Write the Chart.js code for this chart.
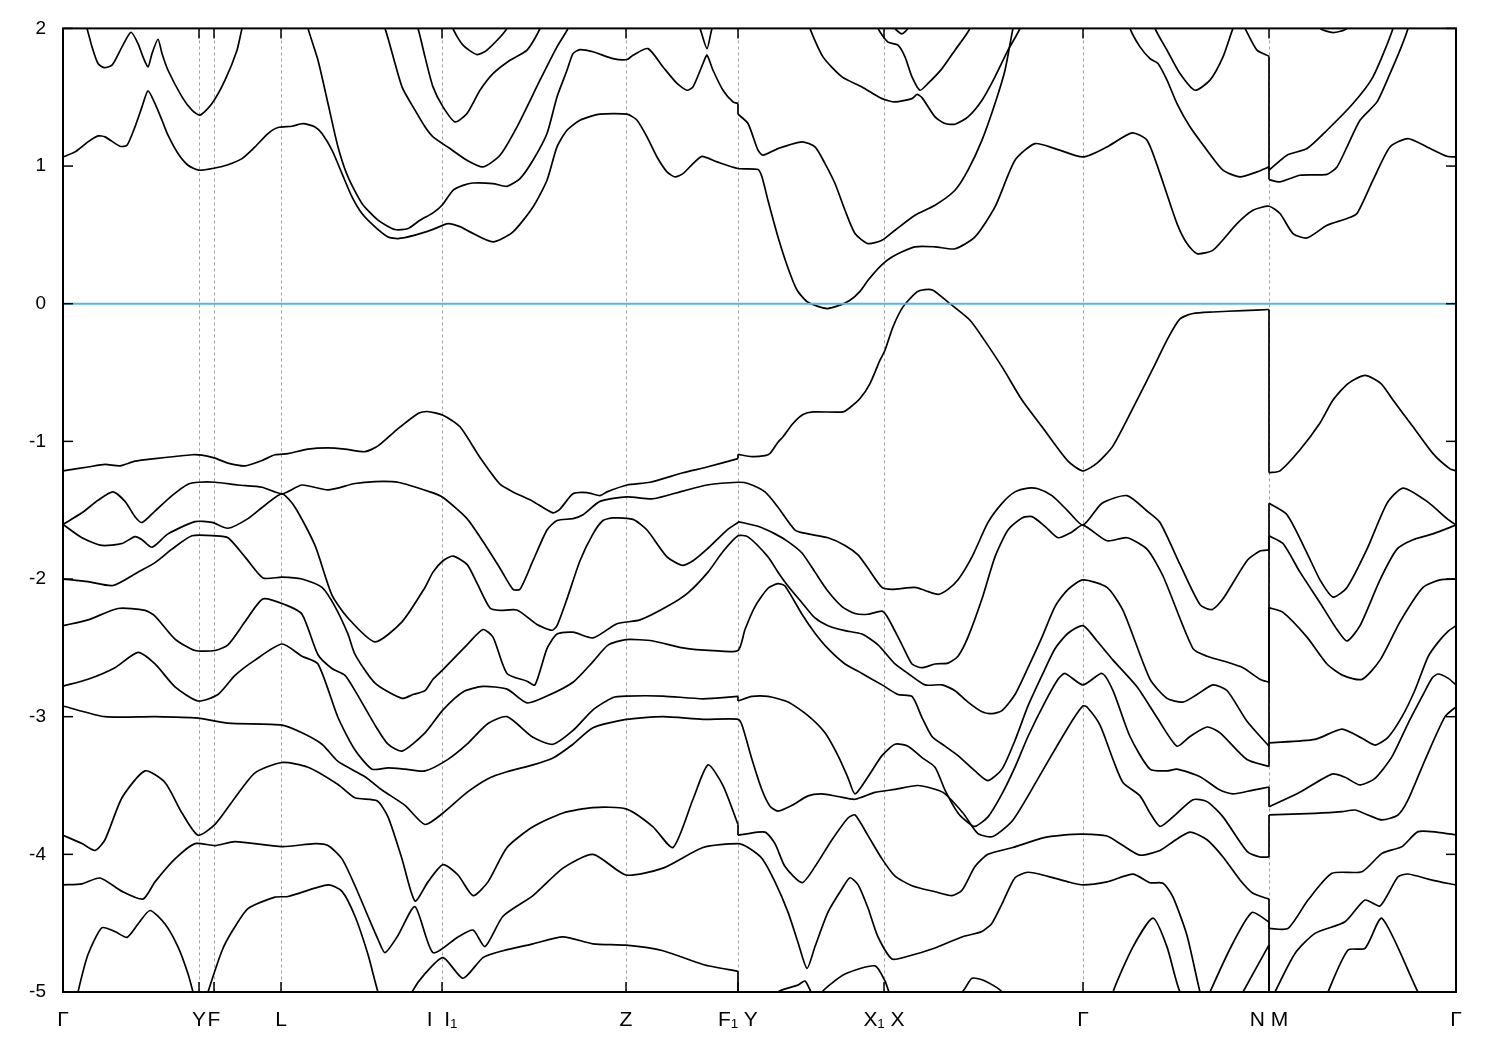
<!DOCTYPE html>
<html><head><meta charset="utf-8">
<script src="https://cdn.jsdelivr.net/npm/chart.js@4.4.1/dist/chart.umd.min.js"></script>
<style>html,body{margin:0;padding:0;background:#fff}#wrap{width:1500px;height:1050px}</style>
</head><body><div id="wrap"><canvas id="c" width="1500" height="1050"></canvas></div>
<script>
// high-symmetry path positions and labels
const kTicks = [0,136,151,218,379,563,675,821,1020,1206,1393];
const kLabels = ['Γ','Y','F','L','I  I₁','Z','F₁ Y','X₁ X','Γ','N M','Γ'];
const eTicks = [2,1,0,-1,-2,-3,-4,-5];

// conduction bands
const c1 = [[0,1.066],[12,1.103],[25,1.176],[35,1.219],[42,1.212],[57,1.144],[64,1.151],[72,1.285],[79,1.43],[85,1.546],[92,1.454],[99,1.333],[105,1.224],[115,1.091],[125,1.006],[136,0.97],[152,0.986],[165,1.01],[179,1.054],[192,1.139],[205,1.236],[215,1.28],[229,1.289],[240,1.308],[252,1.284],[259,1.236],[269,1.115],[279,0.945],[289,0.776],[299,0.655],[312,0.558],[325,0.485],[335,0.473],[352,0.498],[370,0.54],[385,0.582],[397,0.56],[407,0.522],[430,0.449],[450,0.522],[470,0.703],[484,0.897],[494,1.139],[504,1.26],[517,1.333],[537,1.377],[564,1.377],[574,1.333],[584,1.212],[594,1.066],[604,0.958],[612,0.921],[620,0.945],[630,1.018],[639,1.071],[654,1.03],[675,0.982],[695,0.975],[699,0.92],[705,0.75],[715,0.485],[725,0.26],[734,0.1],[745,0.01],[764,-0.035],[777,-0.01],[787,0.025],[797,0.09],[805,0.17],[817,0.27],[829,0.34],[852,0.413],[872,0.413],[892,0.399],[912,0.485],[932,0.703],[952,1.042],[972,1.163],[992,1.127],[1020,1.066],[1044,1.139],[1069,1.241],[1084,1.188],[1097,0.945],[1114,0.582],[1124,0.437],[1134,0.364],[1150,0.389],[1174,0.582],[1190,0.679],[1206,0.708],[1217,0.655],[1230,0.51],[1244,0.478],[1264,0.57],[1284,0.619],[1294,0.655],[1310,0.897],[1327,1.139],[1345,1.2],[1364,1.139],[1384,1.071],[1393,1.066]];
const c2 = [[0,2.45],[15,2.2],[24,2.0],[29,1.866],[35,1.745],[41,1.715],[49,1.733],[59,1.866],[68,1.972],[75,1.89],[80,1.793],[85,1.72],[89,1.817],[95,1.921],[99,1.817],[105,1.696],[119,1.503],[129,1.406],[137,1.37],[149,1.454],[162,1.624],[174,1.842],[179,2.0],[190,2.3],[235,2.3],[245,2.0],[255,1.769],[265,1.454],[275,1.139],[285,0.921],[299,0.728],[315,0.607],[332,0.539],[345,0.546],[357,0.607],[370,0.66],[379,0.715],[390,0.824],[400,0.86],[410,0.877],[430,0.873],[444,0.853],[457,0.909],[470,1.042],[484,1.236],[494,1.502],[504,1.696],[510,1.817],[517,1.846],[530,1.83],[550,1.781],[564,1.774],[570,1.805],[585,1.853],[600,1.72],[614,1.6],[624,1.551],[630,1.575],[640,1.745],[644,1.805],[650,1.696],[660,1.551],[670,1.466],[675,1.454],[675,1.377],[685,1.309],[695,1.115],[700,1.079],[715,1.127],[739,1.176],[752,1.139],[762,1.018],[772,0.873],[782,0.679],[792,0.51],[805,0.437],[819,0.461],[832,0.534],[852,0.643],[872,0.715],[892,0.824],[905,0.97],[919,1.188],[932,1.454],[942,1.696],[950,2.0],[960,2.3],[1055,2.3],[1067,2.0],[1077,1.866],[1087,1.781],[1095,1.745],[1104,1.624],[1114,1.454],[1127,1.285],[1144,1.115],[1160,0.97],[1177,0.921],[1194,0.958],[1206,0.994],[1206,0.902],[1217,0.885],[1237,0.933],[1264,0.94],[1274,0.994],[1284,1.139],[1297,1.333],[1314,1.466],[1327,1.672],[1337,1.842],[1345,2.0],[1360,2.4],[1393,2.6]];
const c3 = [[0,2.8],[300,2.4],[322,2.0],[339,1.575],[352,1.406],[362,1.285],[370,1.212],[387,1.127],[404,1.042],[420,0.994],[437,1.079],[454,1.285],[477,1.624],[494,1.866],[505,2.0],[520,2.3],[620,2.3],[637,2.0],[644,1.853],[649,2.0],[665,2.3],[735,2.3],[747,2.0],[760,1.793],[779,1.648],[799,1.575],[819,1.49],[832,1.466],[849,1.49],[854,1.52],[859,1.497],[872,1.357],[882,1.309],[892,1.304],[905,1.357],[919,1.478],[932,1.648],[945,1.842],[957,2.0],[970,2.3],[1080,2.3],[1092,2.0],[1104,1.842],[1117,1.672],[1132,1.551],[1147,1.624],[1160,1.793],[1170,2.0],[1176,2.08],[1182,2.0],[1194,1.842],[1206,1.798],[1206,0.969],[1224,1.079],[1244,1.127],[1264,1.26],[1290,1.454],[1310,1.648],[1330,2.0],[1345,2.4],[1393,2.8]];
const c4 = [[0,3.0],[340,2.3],[355,2.0],[362,1.793],[370,1.575],[380,1.43],[392,1.321],[404,1.382],[417,1.551],[430,1.672],[447,1.769],[464,1.842],[477,2.0],[490,2.3],[800,2.3],[815,2.0],[825,1.9],[835,1.878],[842,1.793],[849,1.648],[857,1.551],[865,1.6],[879,1.708],[892,1.842],[907,2.0],[920,2.3],[1240,2.15],[1257,2.0],[1270,1.97],[1284,2.0],[1300,2.2],[1393,3.0]];
const c5 = [[0,3.2],[380,2.3],[390,2.0],[400,1.878],[414,1.81],[424,1.842],[444,2.0],[460,2.3],[820,2.2],[832,2.0],[839,1.96],[845,2.0],[860,2.2],[1393,3.2]];

// valence bands (ordered from the top)
const v1 = [[0,-1.214],[25,-1.186],[42,-1.167],[57,-1.178],[72,-1.144],[92,-1.125],[112,-1.11],[129,-1.097],[139,-1.10],[152,-1.122],[165,-1.158],[182,-1.178],[199,-1.139],[212,-1.097],[225,-1.089],[245,-1.056],[265,-1.047],[282,-1.056],[302,-1.075],[315,-1.033],[335,-0.908],[355,-0.797],[364,-0.783],[380,-0.81],[397,-0.894],[417,-1.117],[437,-1.311],[450,-1.367],[470,-1.436],[490,-1.519],[497,-1.492],[510,-1.381],[524,-1.372],[537,-1.394],[544,-1.367],[564,-1.317],[587,-1.297],[620,-1.228],[644,-1.186],[675,-1.125],[675,-1.094],[689,-1.111],[702,-1.103],[707,-1.088],[715,-1.006],[720,-0.967],[730,-0.87],[740,-0.805],[750,-0.786],[780,-0.786],[787,-0.754],[797,-0.689],[807,-0.58],[817,-0.41],[822,-0.338],[830,-0.168],[840,-0.023],[854,0.086],[862,0.103],[870,0.098],[887,0.0],[907,-0.12],[920,-0.25],[940,-0.47],[959,-0.70],[979,-0.894],[1005,-1.144],[1020,-1.214],[1034,-1.158],[1050,-1.033],[1074,-0.70],[1090,-0.47],[1105,-0.25],[1117,-0.11],[1130,-0.071],[1150,-0.06],[1180,-0.05],[1206,-0.042],[1206,-1.228],[1217,-1.214],[1237,-1.061],[1257,-0.867],[1270,-0.70],[1285,-0.58],[1302,-0.52],[1318,-0.58],[1330,-0.70],[1350,-0.894],[1370,-1.089],[1387,-1.2],[1393,-1.214]];
const v2 = [[0,-1.603],[19,-1.519],[35,-1.428],[50,-1.367],[62,-1.436],[72,-1.547],[79,-1.589],[92,-1.506],[109,-1.394],[125,-1.311],[136,-1.297],[152,-1.297],[175,-1.317],[199,-1.333],[219,-1.381],[239,-1.317],[265,-1.353],[292,-1.306],[312,-1.292],[335,-1.297],[367,-1.367],[380,-1.408],[404,-1.561],[420,-1.728],[437,-1.922],[450,-2.075],[457,-2.075],[470,-1.867],[484,-1.644],[494,-1.575],[510,-1.561],[520,-1.533],[537,-1.436],[564,-1.403],[590,-1.417],[620,-1.361],[644,-1.317],[675,-1.297],[685,-1.306],[702,-1.367],[715,-1.478],[732,-1.644],[745,-1.672],[765,-1.7],[782,-1.756],[795,-1.825],[805,-1.922],[819,-2.061],[829,-2.075],[852,-2.061],[862,-2.083],[875,-2.111],[885,-2.075],[895,-2.006],[909,-1.839],[925,-1.589],[939,-1.45],[952,-1.367],[965,-1.339],[975,-1.344],[989,-1.394],[1005,-1.506],[1020,-1.608],[1039,-1.45],[1064,-1.394],[1084,-1.506],[1097,-1.589],[1117,-1.894],[1137,-2.186],[1149,-2.222],[1160,-2.144],[1184,-1.867],[1197,-1.797],[1206,-1.789],[1206,-1.45],[1224,-1.533],[1244,-1.811],[1257,-2.006],[1270,-2.131],[1284,-2.061],[1304,-1.783],[1324,-1.45],[1340,-1.339],[1364,-1.436],[1384,-1.561],[1393,-1.608]];
const v3 = [[0,-1.603],[19,-1.7],[39,-1.756],[59,-1.742],[72,-1.692],[79,-1.714],[89,-1.769],[105,-1.672],[132,-1.583],[149,-1.589],[165,-1.631],[185,-1.561],[202,-1.464],[219,-1.381],[232,-1.478],[252,-1.756],[269,-2.117],[285,-2.283],[312,-2.456],[339,-2.311],[362,-2.061],[370,-1.95],[380,-1.867],[390,-1.833],[404,-1.894],[414,-2.03],[427,-2.211],[437,-2.228],[454,-2.225],[474,-2.33],[489,-2.372],[494,-2.339],[504,-2.144],[517,-1.867],[530,-1.672],[540,-1.575],[550,-1.556],[570,-1.567],[584,-1.644],[604,-1.839],[619,-1.9],[630,-1.867],[644,-1.783],[664,-1.644],[675,-1.589],[675,-1.583],[695,-1.617],[712,-1.672],[725,-1.728],[739,-1.811],[752,-1.95],[765,-2.089],[779,-2.2],[792,-2.25],[805,-2.256],[819,-2.233],[825,-2.283],[839,-2.478],[849,-2.617],[859,-2.644],[872,-2.617],[885,-2.611],[895,-2.561],[905,-2.422],[919,-2.144],[932,-1.839],[945,-1.644],[959,-1.556],[969,-1.547],[982,-1.617],[995,-1.7],[1009,-1.658],[1020,-1.608],[1044,-1.722],[1064,-1.70],[1084,-1.783],[1100,-1.978],[1130,-2.506],[1144,-2.561],[1164,-2.603],[1180,-2.644],[1197,-2.728],[1206,-2.75],[1206,-1.686],[1220,-1.742],[1237,-1.95],[1257,-2.172],[1274,-2.367],[1284,-2.45],[1297,-2.339],[1317,-2.006],[1334,-1.783],[1350,-1.714],[1370,-1.672],[1393,-1.608]];
const v4 = [[0,-2.0],[25,-2.019],[50,-2.047],[75,-1.95],[92,-1.881],[109,-1.783],[129,-1.686],[152,-1.686],[165,-1.7],[182,-1.839],[200,-1.992],[219,-1.986],[239,-2.0],[259,-2.061],[272,-2.2],[285,-2.4],[292,-2.547],[312,-2.756],[339,-2.867],[350,-2.839],[362,-2.811],[370,-2.728],[380,-2.658],[404,-2.478],[420,-2.367],[430,-2.422],[444,-2.686],[464,-2.742],[472,-2.769],[484,-2.506],[494,-2.4],[510,-2.386],[530,-2.428],[554,-2.325],[577,-2.297],[604,-2.2],[625,-2.1],[645,-1.95],[660,-1.8],[675,-1.686],[685,-1.694],[705,-1.839],[715,-1.95],[725,-2.05],[739,-2.172],[752,-2.283],[765,-2.339],[782,-2.375],[799,-2.4],[815,-2.478],[832,-2.617],[845,-2.686],[862,-2.769],[879,-2.769],[892,-2.811],[905,-2.894],[919,-2.964],[929,-2.978],[939,-2.956],[952,-2.839],[965,-2.644],[979,-2.422],[992,-2.2],[1005,-2.075],[1020,-2.006],[1044,-2.061],[1060,-2.228],[1087,-2.728],[1104,-2.867],[1120,-2.894],[1134,-2.839],[1150,-2.769],[1164,-2.81],[1184,-3.033],[1206,-3.214],[1206,-2.208],[1220,-2.242],[1244,-2.422],[1264,-2.617],[1280,-2.7],[1299,-2.729],[1317,-2.589],[1337,-2.311],[1360,-2.061],[1377,-2.006],[1393,-2.0]];
const v5 = [[0,-2.339],[25,-2.297],[55,-2.214],[82,-2.228],[92,-2.269],[112,-2.436],[132,-2.519],[152,-2.519],[165,-2.478],[182,-2.311],[200,-2.144],[222,-2.186],[239,-2.256],[255,-2.55],[269,-2.65],[282,-2.7],[292,-2.811],[312,-3.061],[325,-3.2],[339,-3.25],[362,-3.117],[380,-2.95],[400,-2.82],[420,-2.78],[444,-2.8],[464,-2.9],[484,-2.85],[510,-2.75],[530,-2.6],[545,-2.48],[563,-2.44],[590,-2.45],[620,-2.5],[650,-2.52],[675,-2.519],[682,-2.367],[692,-2.2],[705,-2.067],[715,-2.033],[722,-2.05],[739,-2.256],[752,-2.394],[765,-2.506],[782,-2.617],[799,-2.686],[819,-2.769],[835,-2.839],[849,-2.853],[859,-3.006],[869,-3.144],[882,-3.214],[895,-3.283],[912,-3.394],[925,-3.464],[939,-3.381],[952,-3.172],[965,-2.922],[979,-2.7],[992,-2.506],[1005,-2.394],[1020,-2.339],[1034,-2.45],[1050,-2.589],[1074,-2.783],[1094,-3.006],[1114,-3.214],[1127,-3.144],[1144,-3.075],[1157,-3.117],[1184,-3.311],[1206,-3.361],[1206,-3.19],[1252,-3.165],[1279,-3.09],[1299,-3.157],[1312,-3.206],[1325,-3.15],[1339,-3.0],[1352,-2.806],[1365,-2.565],[1375,-2.46],[1385,-2.38],[1393,-2.339]];
const v6 = [[0,-2.778],[25,-2.728],[52,-2.644],[75,-2.533],[92,-2.617],[112,-2.783],[135,-2.886],[155,-2.839],[172,-2.7],[192,-2.589],[219,-2.472],[239,-2.561],[255,-2.617],[275,-3.006],[292,-3.242],[309,-3.381],[325,-3.372],[342,-3.381],[362,-3.394],[385,-3.31],[404,-3.2],[425,-3.05],[444,-3.0],[470,-3.15],[490,-3.2],[510,-3.1],[530,-2.95],[550,-2.86],[563,-2.85],[600,-2.85],[640,-2.87],[675,-2.853],[675,-2.886],[689,-2.853],[705,-2.853],[725,-2.894],[745,-2.992],[762,-3.117],[775,-3.283],[785,-3.444],[792,-3.561],[805,-3.436],[819,-3.283],[832,-3.2],[845,-3.214],[859,-3.297],[872,-3.367],[882,-3.533],[895,-3.7],[905,-3.769],[912,-3.797],[925,-3.728],[939,-3.561],[952,-3.367],[965,-3.144],[982,-2.894],[995,-2.728],[1002,-2.686],[1020,-2.769],[1039,-2.686],[1050,-2.811],[1067,-3.144],[1087,-3.381],[1104,-3.394],[1114,-3.381],[1137,-3.436],[1157,-3.533],[1170,-3.561],[1190,-3.533],[1206,-3.511],[1206,-3.654],[1235,-3.557],[1269,-3.417],[1282,-3.44],[1297,-3.496],[1312,-3.448],[1329,-3.29],[1345,-3.05],[1359,-2.855],[1369,-2.72],[1375,-2.69],[1385,-2.72],[1393,-2.769]];
const v7 = [[0,-2.922],[42,-3.0],[92,-3.0],[135,-3.011],[165,-3.047],[219,-3.061],[239,-3.117],[259,-3.2],[275,-3.325],[302,-3.436],[319,-3.533],[342,-3.644],[362,-3.783],[380,-3.7],[404,-3.55],[425,-3.45],[444,-3.4],[470,-3.35],[490,-3.3],[510,-3.2],[530,-3.08],[563,-3.02],[600,-3.0],[640,-3.02],[675,-3.019],[679,-3.061],[689,-3.311],[699,-3.533],[707,-3.65],[715,-3.686],[729,-3.644],[745,-3.575],[759,-3.561],[775,-3.58],[792,-3.6],[812,-3.55],[832,-3.528],[855,-3.5],[880,-3.55],[900,-3.7],[915,-3.85],[930,-3.87],[950,-3.75],[975,-3.45],[995,-3.2],[1010,-3.02],[1020,-2.922],[1024,-2.93],[1037,-3.061],[1050,-3.311],[1060,-3.478],[1077,-3.575],[1087,-3.7],[1097,-3.797],[1110,-3.728],[1130,-3.603],[1144,-3.617],[1160,-3.728],[1184,-3.978],[1197,-4.019],[1206,-4.019],[1206,-3.714],[1252,-3.702],[1279,-3.69],[1292,-3.678],[1305,-3.714],[1319,-3.75],[1335,-3.714],[1345,-3.605],[1362,-3.315],[1382,-3.0],[1393,-2.928]];
const v8 = [[0,-3.861],[19,-3.922],[32,-3.972],[42,-3.894],[59,-3.589],[82,-3.394],[102,-3.478],[119,-3.7],[135,-3.861],[152,-3.783],[172,-3.589],[192,-3.408],[219,-3.333],[245,-3.367],[275,-3.492],[292,-3.589],[314,-3.611],[325,-3.728],[339,-4.033],[352,-4.339],[365,-4.2],[380,-4.075],[395,-4.15],[410,-4.3],[425,-4.2],[444,-3.95],[470,-3.8],[500,-3.7],[530,-3.66],[563,-3.67],[590,-3.8],[610,-3.95],[630,-3.6],[645,-3.35],[660,-3.5],[675,-3.783],[675,-3.861],[682,-3.853],[702,-3.839],[712,-3.922],[722,-4.089],[739,-4.206],[752,-4.089],[769,-3.894],[785,-3.736],[792,-3.714],[805,-3.864],[819,-4.033],[832,-4.158],[849,-4.228],[872,-4.272],[889,-4.3],[899,-4.261],[912,-4.089],[925,-4.0],[950,-3.95],[980,-3.88],[1000,-3.86],[1020,-3.853],[1044,-3.867],[1060,-3.936],[1077,-4.006],[1097,-3.972],[1110,-3.908],[1127,-3.839],[1144,-3.894],[1160,-4.019],[1177,-4.186],[1190,-4.283],[1206,-4.325],[1206,-4.538],[1225,-4.538],[1245,-4.332],[1269,-4.138],[1299,-4.126],[1319,-3.993],[1339,-3.944],[1355,-3.835],[1375,-3.84],[1393,-3.859]];
const v9 = [[0,-4.222],[19,-4.214],[37,-4.172],[59,-4.269],[80,-4.325],[92,-4.2],[112,-4.033],[132,-3.922],[152,-3.936],[172,-3.908],[219,-3.944],[252,-3.922],[265,-3.936],[279,-4.033],[292,-4.228],[305,-4.45],[315,-4.617],[322,-4.714],[335,-4.589],[352,-4.38],[370,-4.714],[395,-4.6],[410,-4.55],[422,-4.67],[440,-4.45],[470,-4.3],[500,-4.1],[530,-4.0],[563,-4.15],[600,-4.1],[640,-3.95],[675,-3.922],[685,-3.95],[699,-4.03],[712,-4.2],[725,-4.42],[735,-4.64],[744,-4.828],[752,-4.67],[765,-4.42],[779,-4.25],[787,-4.17],[795,-4.22],[805,-4.39],[815,-4.6],[829,-4.76],[845,-4.74],[872,-4.68],[899,-4.6],[919,-4.56],[929,-4.5],[939,-4.36],[952,-4.17],[965,-4.13],[985,-4.16],[1005,-4.2],[1020,-4.222],[1044,-4.2],[1070,-4.144],[1087,-4.206],[1100,-4.21],[1110,-4.311],[1124,-4.589],[1137,-5.0],[1142,-5.1],[1147,-5.0],[1170,-4.644],[1189,-4.422],[1206,-4.492],[1206,-5.1],[1212,-5.0],[1232,-4.72],[1252,-4.574],[1282,-4.49],[1302,-4.332],[1317,-4.375],[1335,-4.163],[1345,-4.143],[1369,-4.187],[1393,-4.223]];
const v10 = [[0,-5.5],[15,-5.0],[25,-4.728],[39,-4.533],[52,-4.561],[64,-4.603],[75,-4.506],[87,-4.408],[102,-4.506],[115,-4.672],[125,-4.867],[130,-5.0],[137,-5.2],[145,-5.0],[159,-4.7],[169,-4.561],[185,-4.394],[212,-4.311],[225,-4.306],[265,-4.222],[279,-4.269],[292,-4.45],[305,-4.728],[315,-5.0],[330,-5.3],[349,-5.0],[362,-4.867],[380,-4.75],[400,-4.9],[420,-4.75],[440,-4.7],[470,-4.65],[500,-4.6],[530,-4.65],[563,-4.66],[600,-4.7],[640,-4.8],[675,-4.85],[675,-5.1],[700,-5.2],[715,-5.0],[735,-4.95],[742,-4.92],[748,-5.0],[755,-5.1],[759,-5.0],[782,-4.87],[812,-4.81],[822,-4.92],[826,-5.0],[840,-5.2],[899,-5.0],[909,-4.9],[922,-4.92],[939,-5.0],[960,-5.3],[1040,-5.3],[1050,-5.0],[1070,-4.672],[1090,-4.464],[1104,-4.672],[1117,-5.0],[1150,-5.4],[1180,-5.0],[1206,-4.658],[1206,-5.5],[1250,-5.3],[1265,-5.0],[1285,-4.695],[1302,-4.683],[1319,-4.465],[1355,-5.0],[1393,-5.5]];

const bands = [c1,c2,c3,c4,c5,v1,v2,v3,v4,v5,v6,v7,v8,v9,v10];

// split each band at the path discontinuities: smooth pieces + straight jumps
function toDatasets(band){
  const out=[]; let piece=[band[0]];
  const mk=(pts,t)=>({data:pts.map(p=>({x:p[0],y:p[1]})),borderColor:'#000',borderWidth:1.7,pointRadius:0,fill:false,tension:t});
  for(let i=1;i<band.length;i++){
    if(band[i][0]===band[i-1][0]){
      out.push(mk(piece,0.22)); out.push(mk([band[i-1],band[i]],0)); piece=[band[i]];
    } else piece.push(band[i]);
  }
  out.push(mk(piece,0.22));
  return out;
}

const frame = {
  id:'frame',
  beforeDatasetsDraw(chart){
    const {ctx, chartArea:a, scales:{x}} = chart;
    ctx.save();
    ctx.strokeStyle='#a0a0a0'; ctx.lineWidth=1; ctx.setLineDash([3,3]);
    for(let i=1;i<kTicks.length-1;i++){
      const px=Math.round(x.getPixelForValue(kTicks[i]))+0.5;
      ctx.beginPath(); ctx.moveTo(px,a.top); ctx.lineTo(px,a.bottom); ctx.stroke();
    }
    ctx.restore();
  },
  afterDatasetsDraw(chart){
    const {ctx, chartArea:a, scales:{x,y}} = chart;
    ctx.save();
    const y0=y.getPixelForValue(0);
    ctx.strokeStyle='#56b4e9'; ctx.lineWidth=2;
    ctx.beginPath(); ctx.moveTo(a.left,y0); ctx.lineTo(a.right,y0); ctx.stroke();
    ctx.strokeStyle='#000'; ctx.lineWidth=2; ctx.setLineDash([]);
    ctx.strokeRect(a.left,a.top,a.right-a.left,a.bottom-a.top);
    ctx.lineWidth=1.5;
    for(const v of eTicks){
      const py=y.getPixelForValue(v);
      ctx.beginPath(); ctx.moveTo(a.left,py); ctx.lineTo(a.left+10,py); ctx.stroke();
      ctx.beginPath(); ctx.moveTo(a.right,py); ctx.lineTo(a.right-10,py); ctx.stroke();
    }
    for(let i=1;i<kTicks.length-1;i++){
      const px=x.getPixelForValue(kTicks[i]);
      ctx.beginPath(); ctx.moveTo(px,a.top); ctx.lineTo(px,a.top+10); ctx.stroke();
      ctx.beginPath(); ctx.moveTo(px,a.bottom); ctx.lineTo(px,a.bottom-10); ctx.stroke();
    }
    ctx.restore();
  }
};

new Chart(document.getElementById('c').getContext('2d'), {
  type:'line',
  data:{datasets: bands.flatMap(toDatasets)},
  options:{
    responsive:false, animation:false, events:[],
    layout:{padding:{left:0,right:44,top:28,bottom:0}},
    plugins:{legend:{display:false}, tooltip:{enabled:false}},
    scales:{
      x:{type:'linear', min:0, max:1393,
        afterBuildTicks:s=>{s.ticks=kTicks.map(v=>({value:v}));},
        afterFit:s=>{s.height=58;},
        grid:{display:false, drawTicks:false}, border:{display:false},
        ticks:{autoSkip:false, maxRotation:0, padding:16, color:'#000',
          font:{family:'Liberation Sans, Arial, sans-serif', size:21},
          callback:(v,i)=>kLabels[i]}},
      y:{type:'linear', min:-5, max:2,
        afterBuildTicks:s=>{s.ticks=eTicks.map(v=>({value:v}));},
        afterFit:s=>{s.width=63;},
        grid:{display:false, drawTicks:false}, border:{display:false},
        ticks:{padding:17, color:'#000',
          font:{family:'Liberation Sans, Arial, sans-serif', size:19},
          callback:v=>String(v)}}
    }
  },
  plugins:[frame]
});
</script></body></html>
